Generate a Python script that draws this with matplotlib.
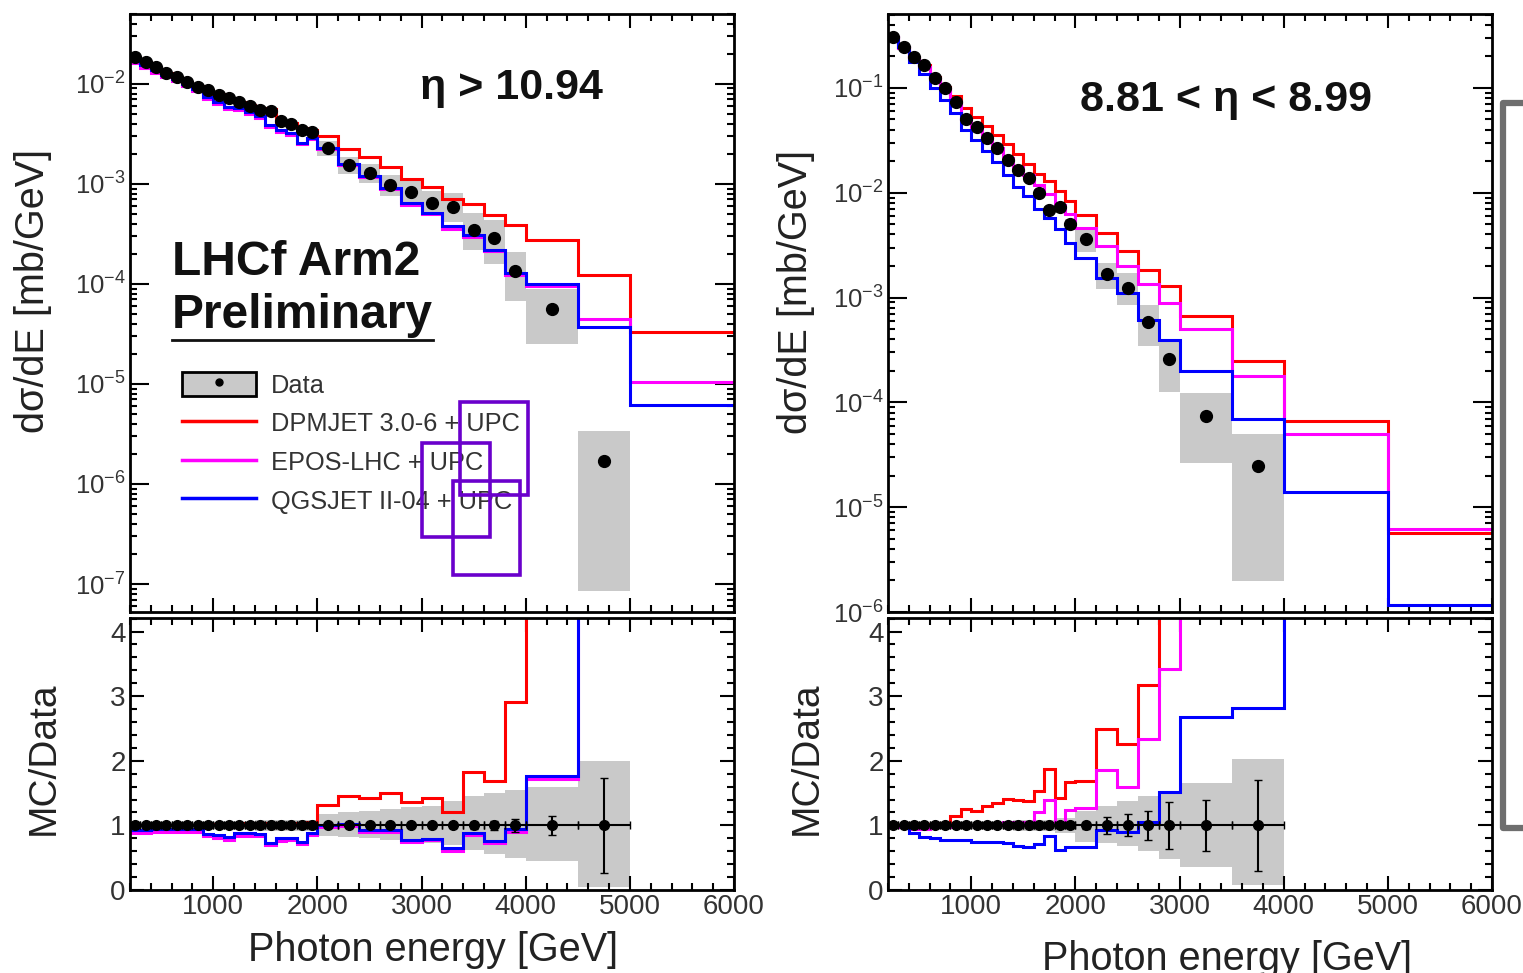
import numpy as np
import matplotlib.pyplot as plt
from matplotlib.patches import Patch, Rectangle
from matplotlib.lines import Line2D
from matplotlib.ticker import MultipleLocator, LogLocator, NullFormatter, FormatStrFormatter

plt.rcParams['font.family'] = ['Liberation Sans', 'DejaVu Sans']

# ---- left panel: eta > 10.94 ----
left_edges = [200, 300, 400, 500, 600, 700, 800, 900, 1000, 1100, 1200, 1300, 1400,
              1500, 1600, 1700, 1800, 1900, 2000, 2200, 2400, 2600, 2800, 3000,
              3200, 3400, 3600, 3800, 4000, 4500, 5000]
left_tail_edges = [5000, 6000]
left_data = [0.0185, 0.0165, 0.0146, 0.0130, 0.0118, 0.0105, 0.0094, 0.0086, 0.0078,
             0.0072, 0.0066, 0.0060, 0.0055, 0.0054, 0.0043, 0.0040, 0.0035, 0.0033,
             2.29e-3, 1.55e-3, 1.29e-3, 9.8e-4, 8.3e-4, 6.5e-4, 5.9e-4, 3.5e-4,
             2.9e-4, 1.35e-4, 5.6e-5, 1.7e-6]
left_sys_hi = [1.03] * 8 + [1.05] * 4 + [1.08] * 6 + \
              [1.17, 1.2, 1.22, 1.25, 1.28, 1.3, 1.37, 1.45, 1.5, 1.55, 1.6, 2.0]
left_sys_lo = [0.97] * 8 + [0.95] * 4 + [0.92] * 6 + \
              [0.83, 0.82, 0.8, 0.78, 0.76, 0.73, 0.7, 0.62, 0.55, 0.5, 0.45, 0.05]
left_stat = [0.01] * 18 + [0.02, 0.02, 0.03, 0.03, 0.03, 0.04, 0.04, 0.05, 0.07, 0.1,
                           0.15, 0.74]
# MC / data
left_dpmjet = [1.0, 1.0, 1.0, 1.0, 1.0, 1.0, 1.01, 1.02, 1.02, 1.0, 1.01, 1.03, 1.04,
               1.04, 0.97, 1.02, 1.03, 1.05, 1.32, 1.455, 1.43, 1.505, 1.36, 1.43,
               1.2, 1.82, 1.68, 2.91, 4.9, 72]
left_epos = [0.88, 0.88, 0.89, 0.9, 0.9, 0.9, 0.9, 0.83, 0.8, 0.78, 0.83, 0.84, 0.83,
             0.69, 0.76, 0.77, 0.71, 0.85, 0.97, 0.99, 0.9, 0.9, 0.74, 0.77, 0.6,
             0.85, 0.73, 0.9, 1.72, 26]
left_qgsjet = [0.93, 0.93, 0.94, 0.94, 0.95, 0.95, 0.94, 0.87, 0.85, 0.82, 0.88, 0.88,
               0.87, 0.72, 0.8, 0.8, 0.74, 0.88, 1.0, 1.02, 0.93, 0.93, 0.77, 0.79,
               0.645, 0.88, 0.76, 0.95, 1.765, 22]
# MC beyond the data range [mb/GeV]
left_dpmjet_tail = [3.3e-5]
left_epos_tail = [1.05e-5]
left_qgsjet_tail = [6.2e-6]

# ---- right panel: 8.81 < eta < 8.99 ----
right_edges = [200, 300, 400, 500, 600, 700, 800, 900, 1000, 1100, 1200, 1300, 1400,
               1500, 1600, 1700, 1800, 1900, 2000, 2200, 2400, 2600, 2800, 3000,
               3500, 4000]
right_tail_edges = [4000, 5000, 6000]
right_data = [0.308, 0.247, 0.199, 0.166, 0.124, 0.0993, 0.074, 0.051, 0.0428, 0.0332,
              0.0267, 0.0206, 0.0166, 0.0138, 0.0099, 0.0069, 0.0073, 0.0050,
              3.63e-3, 1.66e-3, 1.24e-3, 5.8e-4, 2.6e-4, 7.4e-5, 2.47e-5]
right_sys_hi = [1.04] * 8 + [1.06] * 4 + [1.09] * 4 + [1.12] * 2 + \
               [1.22, 1.3, 1.38, 1.45, 1.5, 1.65, 2.02]
right_sys_lo = [0.96] * 8 + [0.94] * 4 + [0.91] * 4 + [0.88] * 2 + \
               [0.75, 0.72, 0.68, 0.6, 0.48, 0.36, 0.08]
right_stat = [0.01] * 14 + [0.02, 0.02, 0.03, 0.03] + \
             [0.06, 0.13, 0.17, 0.23, 0.36, 0.39, 0.7]
right_dpmjet = [1.0, 1.0, 1.0, 1.0, 1.02, 1.03, 1.14, 1.25, 1.23, 1.3, 1.34, 1.41, 1.4,
                1.37, 1.53, 1.87, 1.43, 1.67, 1.68, 2.49, 2.26, 3.17, 5.0, 9.1, 10.1]
right_epos = [1.0, 0.98, 0.95, 0.95, 0.97, 0.98, 0.99, 1.0, 1.0, 1.0, 1.01, 1.05, 1.05,
              1.06, 1.2, 1.4, 1.05, 1.24, 1.27, 1.85, 1.6, 2.33, 3.42, 6.8, 7.3]
right_qgsjet = [1.0, 1.0, 0.88, 0.82, 0.8, 0.78, 0.78, 0.77, 0.75, 0.75, 0.74, 0.72,
                0.68, 0.67, 0.71, 0.84, 0.62, 0.66, 0.66, 0.93, 0.89, 1.06, 1.51,
                2.67, 2.81]
right_dpmjet_tail = [6.6e-5, 5.7e-6]
right_epos_tail = [5.0e-5, 6.2e-6]
right_qgsjet_tail = [1.4e-5, 1.17e-6]

model_names = ['DPMJET 3.0-6 + UPC', 'EPOS-LHC + UPC', 'QGSJET II-04 + UPC']
model_colors = ['#ff0000', '#ff00ff', '#0000ff']
gray = '#c9c9c9'
tick_col = '#333333'
RATIO_TOP = 4.21

W, H = 1523, 973
fig = plt.figure(figsize=(W / 100, H / 100), dpi=100)


def style(ax, log=False):
    for s in ax.spines.values():
        s.set_linewidth(2)
    ax.tick_params(which='both', direction='in', top=True, right=True,
                   labelsize=20, labelcolor=tick_col, width=1.5, pad=3)
    ax.tick_params(which='major', length=10)
    ax.tick_params(which='minor', length=5)
    ax.xaxis.set_major_locator(MultipleLocator(1000))
    ax.xaxis.set_minor_locator(MultipleLocator(200))
    if log:
        ax.yaxis.set_major_locator(LogLocator(base=10, numticks=20))
        ax.yaxis.set_minor_locator(LogLocator(base=10, subs=np.arange(2, 10), numticks=20))
        ax.yaxis.set_minor_formatter(NullFormatter())
        ax.tick_params(axis='y', which='major', labelsize=18.5, length=14)


def panel(x0, edges, tail_edges, data, sys_lo, sys_hi, stat, ratios, tails, ylim):
    edges = np.array(edges, float)
    data = np.array(data)
    cen = 0.5 * (edges[1:] + edges[:-1])
    wid = edges[1:] - edges[:-1]
    lo = data * np.array(sys_lo)
    hi = data * np.array(sys_hi)

    axt = fig.add_axes([x0 / W, 1 - 612 / H, 604 / W, 598 / H])
    axr = fig.add_axes([x0 / W, 1 - 890 / H, 604 / W, 272 / H])

    axt.set_yscale('log')
    axt.bar(cen, hi - lo, bottom=lo, width=wid, color=gray, zorder=1)
    all_edges = np.concatenate([edges, np.array(tail_edges[1:], float)])
    for r, t, c in zip(ratios, tails, model_colors):
        vals = np.concatenate([np.array(r) * data, t])
        axt.stairs(vals, all_edges, baseline=None, color=c, lw=2.2, zorder=2)
    axt.plot(cen, data, 'o', color='k', ms=8.5, zorder=3)
    axt.set_xlim(200, 6000)
    axt.set_ylim(*ylim)
    style(axt, log=True)
    axt.tick_params(labelbottom=False)
    axt.set_ylabel('dσ/dE [mb/GeV]', fontsize=28.5, color='#222222')

    axr.bar(cen, np.array(sys_hi) - np.array(sys_lo), bottom=sys_lo, width=wid,
            color=gray, zorder=1)
    # first bin without data: ratio runs off the top of the panel
    r_edges = np.append(edges, tail_edges[1])
    for r, c in zip(ratios, model_colors):
        axr.stairs(np.append(r, RATIO_TOP * 10), r_edges, baseline=None, color=c,
                   lw=2.2, zorder=2)
    axr.errorbar(cen, np.ones_like(cen), xerr=wid / 2, yerr=stat, fmt='o', color='k',
                 ms=7, elinewidth=1.5, capsize=3, zorder=3)
    axr.set_xlim(200, 6000)
    axr.set_ylim(0, RATIO_TOP)
    style(axr)
    axr.yaxis.set_major_locator(MultipleLocator(1))
    axr.yaxis.set_minor_locator(MultipleLocator(0.2))
    axr.yaxis.set_major_formatter(FormatStrFormatter('%d'))
    axr.set_ylabel('MC/Data', fontsize=28, color='#222222')
    axr.set_xlabel('Photon energy [GeV]', fontsize=28.5, color='#222222')
    return axt, axr


axt1, axr1 = panel(130, left_edges, left_tail_edges, left_data, left_sys_lo,
                   left_sys_hi, left_stat, [left_dpmjet, left_epos, left_qgsjet],
                   [left_dpmjet_tail, left_epos_tail, left_qgsjet_tail], (5.25e-8, 0.05))
axt2, axr2 = panel(888, right_edges, right_tail_edges, right_data, right_sys_lo,
                   right_sys_hi, right_stat, [right_dpmjet, right_epos, right_qgsjet],
                   [right_dpmjet_tail, right_epos_tail, right_qgsjet_tail], (1.0e-6, 0.507))

axt1.yaxis.set_label_coords(-0.129, 0.537)
axt2.yaxis.set_label_coords(-0.121, 0.535)
axr1.yaxis.set_label_coords(-0.113, 0.485)
axr2.yaxis.set_label_coords(-0.104, 0.485)
axr1.xaxis.set_label_coords(0.502, -0.15)
axr2.xaxis.set_label_coords(0.561, -0.185)

# annotations
axt1.text(0.631, 0.876, 'η > 10.94', transform=axt1.transAxes, ha='center',
          va='center', fontsize=31, fontweight='bold', color='#111111')
axt2.text(0.560, 0.856, '8.81 < η < 8.99', transform=axt2.transAxes, ha='center',
          va='center', fontsize=31, fontweight='bold', color='#111111')
axt1.text(0.0695, 0.584, 'LHCf Arm2', transform=axt1.transAxes, ha='left',
          va='center', fontsize=34.5, fontweight='bold', color='#111111')
axt1.text(0.0695, 0.495, 'Preliminary', transform=axt1.transAxes, ha='left',
          va='center', fontsize=34.5, fontweight='bold', color='#111111')
axt1.plot([0.0695, 0.502], [0.455, 0.455], transform=axt1.transAxes, color='#111111',
          lw=2)

# legend
data_handle = (Patch(facecolor=gray, edgecolor='k', lw=2),
               Line2D([], [], marker='o', color='k', ls='none', ms=5))
handles = [data_handle] + [Line2D([], [], color=c, lw=2.5) for c in model_colors]
leg = axt1.legend(handles, ['Data'] + model_names, loc='upper left',
                  bbox_to_anchor=(0.086, 0.401), frameon=False, fontsize=18.3,
                  handlelength=2.9, handleheight=1.05, handletextpad=0.6,
                  labelspacing=0.52, borderpad=0, borderaxespad=0)
for t in leg.get_texts():
    t.set_color(tick_col)

# overlaid marks from the source slide
for (x1, y1, x2, y2) in [(460, 402, 528, 495), (422, 443, 490, 537), (453, 481, 520, 575)]:
    fig.add_artist(Rectangle((x1 / W, 1 - y2 / H), (x2 - x1) / W, (y2 - y1) / H,
                             transform=fig.transFigure, fill=False, ec='#6a00cc', lw=2.6))
fig.add_artist(Line2D([1.0, 1503 / W, 1503 / W, 1.0],
                      [1 - 103 / H, 1 - 103 / H, 1 - 828 / H, 1 - 828 / H],
                      transform=fig.transFigure, color='#6e6e6e', lw=4.5))
fig.text(0.650, 1.014, 'y', ha='center', va='baseline', fontsize=40,
         fontweight='bold', color='#ff0000')

fig.savefig('out.png', dpi=100, facecolor='white')
